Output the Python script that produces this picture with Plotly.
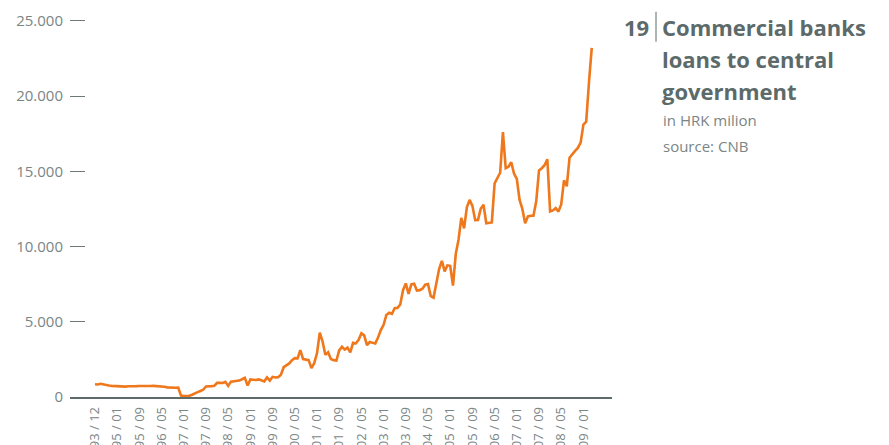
import plotly.graph_objects as go

# Commercial banks loans to central government, HRK million
loans = [
    850, 830, 880, 860, 800, 770, 740, 720, 700, 720,
    700, 690, 710, 700, 720, 720, 730, 720, 730, 740,
    730, 740, 730, 720, 700, 680, 640, 620, 620, 610,
    620, 90, 60, 50, 80, 150, 260, 320, 400, 480,
    700, 730, 720, 740, 940, 950, 930, 1010, 740, 1020,
    1040, 1070, 1090, 1180, 1280, 760, 1170, 1150, 1130, 1170,
    1100, 1030, 1300, 1090, 1340, 1300, 1320, 1480, 1980, 2080,
    2230, 2450, 2580, 2570, 3120, 2520, 2480, 2450, 1920, 2250,
    2900, 4280, 3700, 2800, 2970, 2520, 2450, 2420, 3100, 3340,
    3150, 3280, 2960, 3600, 3560, 3800, 4230, 4100, 3450, 3650,
    3600, 3560, 3950, 4450, 4800, 5450, 5600, 5530, 5900, 5920,
    6150, 7100, 7550, 6850, 7480, 7520, 7070, 7100, 7200, 7460,
    7500, 6700, 6600, 7600, 8500, 9050, 8350, 8750, 8720, 7400,
    9500, 10450, 11900, 11200, 12600, 13100, 12700, 11750, 11760, 12500,
    12780, 11550, 11600, 11600, 14200, 14600, 14900, 17600, 15200, 15300,
    15600, 14850, 14500, 13100, 12500, 11550, 12000, 12040, 12050, 13000,
    15050, 15200, 15400, 15800, 12330, 12400, 12550, 12320, 12800, 14400,
    14000, 15900, 16150, 16350, 16550, 16900, 18100, 18300, 20900, 23200,
]
period = list(range(len(loans)))

tick_labels = [
    "93 / 12", "95 / 01", "95 / 09", "96 / 05", "97 / 01", "97 / 09",
    "98 / 05", "99 / 01", "99 / 09", "00 / 05", "01 / 01", "01 / 09",
    "02 / 05", "03 / 01", "03 / 09", "04 / 05", "05 / 01", "05 / 09",
    "06 / 05", "07 / 01", "07 / 09", "08 / 05", "09 / 01",
]
tick_pos = list(range(0, 8 * len(tick_labels), 8))
y_ticks = [0, 5000, 10000, 15000, 20000, 25000]

title_num = "19"
title_lines = ["Commercial banks", "loans to central", "government"]
sub_lines = ["in HRK milion", "source: CNB"]

ORANGE = "#EF771C"
DARK = "#5C6A6A"
GREY = "#7A8585"
FONT = "Open Sans"

# the page body adds an 8px offset, so figure coords = screen coords - 8
OFF = 8
Y_TOP = 25250
# plot area on screen: x 70..612, y 0-line at 397, 25.000 at 21
L, R = 70 - OFF, 612 - OFF
B = 397 - OFF
T = B - (B - (21 - OFF)) * Y_TOP / 25000

def px_x(p):
    return (p - OFF - L) / (R - L)

def px_y(p):
    return (B - (p - OFF)) / (B - T)

fig = go.Figure()
fig.add_trace(go.Scatter(
    x=period, y=loans, mode="lines",
    line=dict(color=ORANGE, width=2.6),
    hoverinfo="skip", showlegend=False
))

fig.update_layout(
    width=889, height=445,
    margin=dict(l=L, r=889 - R, t=T, b=445 - B),
    paper_bgcolor="white", plot_bgcolor="white",
    separators=",.",
    font=dict(family=FONT, color=GREY),
)
fig.update_xaxes(
    range=[-9, 186.3], tickmode="array", tickvals=tick_pos, ticktext=tick_labels,
    tickangle=-90, tickfont=dict(size=13, color=GREY), ticks="",
    ticklabelstandoff=3,
    showgrid=False, zeroline=False, showline=True,
    linecolor="#5F6B6B", linewidth=1.5, automargin=False,
)
fig.update_yaxes(
    range=[0, Y_TOP], tickmode="array", tickvals=y_ticks, tickformat=",d",
    tickfont=dict(size=15, color=GREY), ticks="inside", ticklen=15,
    tickcolor="#6D7878", tickwidth=1, ticklabelstandoff=6,
    showgrid=False, zeroline=False, showline=False, automargin=False,
)

# title block on the right
fig.add_annotation(
    xref="paper", yref="paper", x=px_x(651), y=px_y(27),
    xanchor="right", yanchor="middle", showarrow=False,
    text="<b>" + title_num + "</b>", font=dict(size=22, color=DARK, family=FONT),
)
fig.add_shape(
    type="line", xref="paper", yref="paper",
    x0=px_x(656), x1=px_x(656), y0=px_y(42), y1=px_y(12),
    line=dict(color=DARK, width=1),
)
for k, t in enumerate(title_lines):
    fig.add_annotation(
        xref="paper", yref="paper", x=px_x(660), y=px_y(27 + 32 * k),
        xanchor="left", yanchor="middle", showarrow=False,
        text="<b>" + t + "</b>", font=dict(size=22, color=DARK, family=FONT),
    )
for k, t in enumerate(sub_lines):
    fig.add_annotation(
        xref="paper", yref="paper", x=px_x(661), y=px_y(120 + 26 * k),
        xanchor="left", yanchor="middle", showarrow=False,
        text=t, font=dict(size=15, color=GREY, family=FONT),
    )

fig.write_html("out.html")
